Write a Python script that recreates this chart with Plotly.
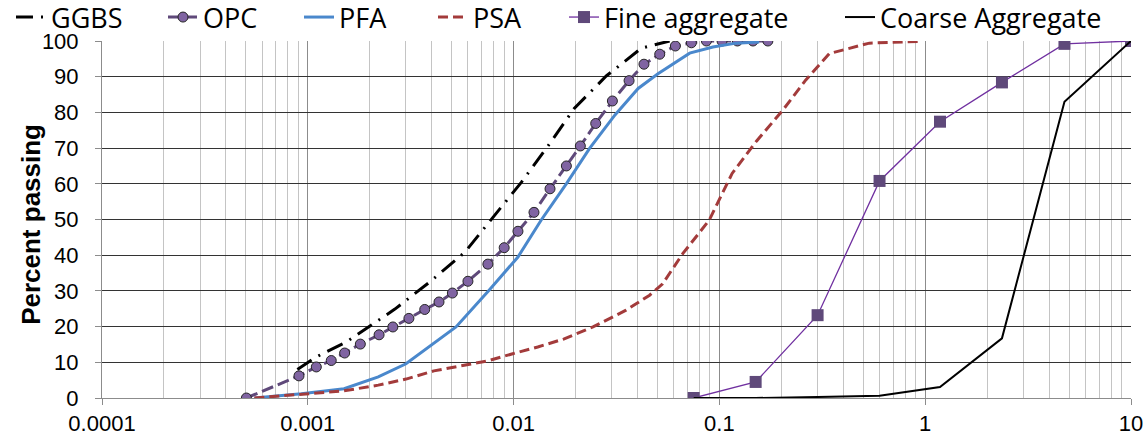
import plotly.graph_objects as go

# ---- data ----
ggbs_x = [0.00089, 0.0011, 0.00154, 0.00193, 0.00265, 0.00391, 0.00579, 0.00794, 0.0109, 0.0147, 0.0197, 0.0282, 0.0418, 0.0573]
ggbs_y = [8, 11.5, 15.7, 19.5, 24.9, 32.5, 40.8, 50.6, 60.4, 70.6, 81.1, 90.2, 98.0, 100]

opc_x = [0.000503, 0.000906, 0.0011, 0.0013, 0.00151, 0.0018, 0.00222, 0.00259, 0.0031, 0.0037,
         0.00434, 0.00504, 0.006, 0.0075, 0.009, 0.0105, 0.01256, 0.01503, 0.01805, 0.0211,
         0.02506, 0.0302, 0.0364, 0.043, 0.0513, 0.0611, 0.0731, 0.0865, 0.103, 0.1223, 0.1456, 0.172]
opc_y = [0, 6.2, 8.7, 10.5, 12.6, 15.1, 17.7, 19.9, 22.3, 24.8,
         26.9, 29.4, 32.7, 37.5, 42.1, 46.7, 52.0, 58.6, 65.0, 70.6,
         76.9, 83.2, 88.9, 93.5, 96.3, 98.6, 99.5, 100, 100, 100, 100, 100]

pfa_x = [0.00055, 0.00093, 0.0015, 0.0022, 0.0030, 0.0040, 0.00525, 0.0076, 0.0105, 0.0136,
         0.0181, 0.0234, 0.0311, 0.0403, 0.0503, 0.0717, 0.093, 0.1205, 0.156]
pfa_y = [0, 1.2, 2.6, 5.9, 9.6, 14.8, 19.9, 30.2, 39.5, 49.8,
         60.1, 69.9, 79.3, 86.7, 90.8, 96.6, 98.3, 99.4, 99.7]

psa_x = [0.00055, 0.001, 0.0015, 0.0022, 0.0030, 0.0041, 0.0055, 0.0075, 0.0099, 0.0131,
         0.0175, 0.0243, 0.0352, 0.0458, 0.053, 0.0665, 0.0892, 0.1153, 0.1517, 0.2037,
         0.263, 0.3425, 0.5355, 0.953]
psa_y = [0, 1.2, 2.0, 3.6, 5.3, 7.6, 9.0, 10.4, 12.4, 14.3,
         16.5, 19.9, 24.6, 28.8, 32.0, 40.5, 49.8, 62.9, 72.0, 80.7,
         89.1, 96.5, 99.4, 99.9]

sieve_x = [0.075, 0.15, 0.3, 0.6, 1.18, 2.36, 4.75, 10]
fine_y = [0, 4.5, 23.2, 60.8, 77.4, 88.4, 99.2, 100]
coarse_y = [0, 0, 0.3, 0.6, 3.1, 16.7, 83.0, 100]

x_tickvals = [0.0001, 0.001, 0.01, 0.1, 1, 10]
x_ticktext = ["0.0001", "0.001", "0.01", "0.1", "1", "10"]
x_minor = [m * 10.0 ** e for e in range(-4, 1) for m in range(2, 10)]

# layout geometry (px)
W, H = 1148, 441
ML, MR, MT, MB = 102, 17, 41, 43
PLOT_W, PLOT_H = W - ML - MR, H - MT - MB
legend_left_px = [11, 163, 299, 433, 564, 840]
legend_top_px = -7

fig = go.Figure()
fig.add_trace(go.Scatter(x=ggbs_x, y=ggbs_y, name="GGBS", mode="lines", legend="legend",
                         line=dict(color="black", width=3, dash="17px,8px,2px,8px")))
fig.add_trace(go.Scatter(x=opc_x, y=opc_y, name="OPC", mode="lines+markers", legend="legend2",
                         line=dict(color="#5F497A", width=3, dash="12px,5px"),
                         marker=dict(symbol="circle", size=10, color="#8064A2",
                                     line=dict(color="#262626", width=1))))
fig.add_trace(go.Scatter(x=pfa_x, y=pfa_y, name="PFA", mode="lines", legend="legend3",
                         line=dict(color="#4A88CC", width=3)))
fig.add_trace(go.Scatter(x=psa_x, y=psa_y, name="PSA", mode="lines", legend="legend4",
                         line=dict(color="#A33B3B", width=3, dash="10px,5px")))
fig.add_trace(go.Scatter(x=sieve_x, y=fine_y, name="Fine aggregate", mode="lines+markers", legend="legend5",
                         line=dict(color="#7030A0", width=1.3),
                         marker=dict(symbol="square", size=12, color="#5F497A")))
fig.add_trace(go.Scatter(x=sieve_x, y=coarse_y, name="Coarse Aggregate", mode="lines", legend="legend6",
                         line=dict(color="black", width=2)))

tick_font = dict(family="Liberation Sans, Arial, sans-serif", size=22, color="black")

legend_style = dict(orientation="h", xref="container", yref="paper",
                    y=1 + (MT - legend_top_px) / PLOT_H, xanchor="left", yanchor="top",
                    font=dict(family="Open Sans, sans-serif", size=27, color="black"),
                    bgcolor="rgba(0,0,0,0)", itemwidth=30)
legends = {}
for i, lx in enumerate(legend_left_px):
    key = "legend" if i == 0 else f"legend{i + 1}"
    legends[key] = dict(legend_style, x=lx / W)

fig.update_layout(
    width=W, height=H,
    margin=dict(l=ML, r=MR, t=MT, b=MB, autoexpand=False),
    paper_bgcolor="white", plot_bgcolor="white",
    showlegend=True,
    xaxis=dict(type="log", range=[-4, 1], tickmode="array", tickvals=x_tickvals, ticktext=x_ticktext,
               showgrid=True, gridcolor="#8C8C8C", gridwidth=1,
               minor=dict(tickmode="array", tickvals=x_minor, showgrid=True, gridcolor="#C4C4C4",
                          gridwidth=1, ticks=""),
               ticks="outside", ticklen=6, tickcolor="#8C8C8C",
               showline=True, linecolor="#8C8C8C", linewidth=1,
               zeroline=False, tickfont=tick_font),
    yaxis=dict(range=[0, 100], tickmode="linear", tick0=0, dtick=10,
               showgrid=True, gridcolor="#333333", gridwidth=1.3,
               ticks="outside", ticklen=6, tickcolor="#8C8C8C",
               showline=True, linecolor="#8C8C8C", linewidth=1,
               zeroline=False, tickfont=tick_font, ticklabelstandoff=12),
    annotations=[dict(text="<b>Percent passing</b>", textangle=-90, showarrow=False,
                      xref="paper", yref="paper", x=(31 - ML) / PLOT_W, y=0.485,
                      xanchor="center", yanchor="middle",
                      font=dict(family="Liberation Sans, Arial, sans-serif", size=26, color="black"))],
    **legends,
)

fig.write_html("out.html")
